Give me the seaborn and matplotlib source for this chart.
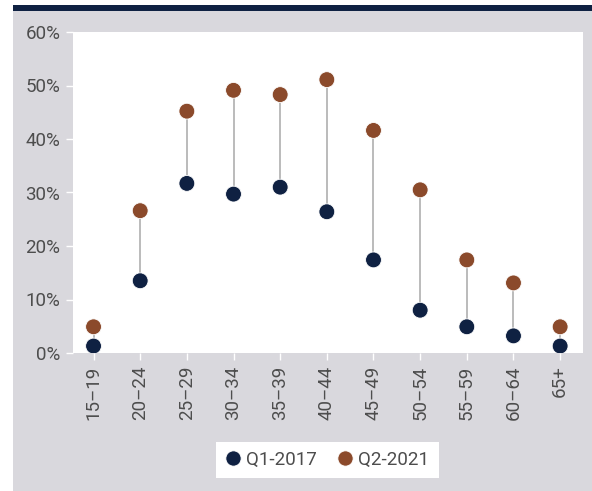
import matplotlib
matplotlib.use("Agg")
import matplotlib.pyplot as plt
from matplotlib.patches import Rectangle
from matplotlib.lines import Line2D
import seaborn as sns
import pandas as pd

# Age groups and share values (%) for the two periods
age_groups = ["15\u201319", "20\u201324", "25\u201329", "30\u201334", "35\u201339", "40\u201344",
              "45\u201349", "50\u201354", "55\u201359", "60\u201364", "65+"]
q1_2017 = [1.3, 13.5, 31.7, 29.7, 31.0, 26.4, 17.4, 8.0, 4.9, 3.2, 1.3]
q2_2021 = [4.9, 26.6, 45.2, 49.1, 48.3, 51.1, 41.6, 30.5, 17.4, 13.1, 4.9]
series_names = ["Q1-2017", "Q2-2021"]
y_ticks = [0, 10, 20, 30, 40, 50, 60]

NAVY = "#0f2142"
BROWN = "#8b4a2b"
PANEL = "#d9d8dd"
TEXT = "#4d4d4d"

sns.set_theme(style="white")
plt.rcParams["font.family"] = ["Roboto", "Liberation Sans", "DejaVu Sans"]

df = pd.DataFrame({
    "age": age_groups * 2,
    "value": q1_2017 + q2_2021,
    "period": [series_names[0]] * len(age_groups) + [series_names[1]] * len(age_groups),
})
df["x"] = list(range(len(age_groups))) * 2

W, H = 592, 491
fig = plt.figure(figsize=(W / 100, H / 100), dpi=100, facecolor="white")

# grey panel and dark header strip
fig.patches.append(Rectangle((13 / W, 0), 1 - 13 / W, 1 - 11 / H,
                             transform=fig.transFigure, facecolor=PANEL, edgecolor="none", zorder=-2))
fig.patches.append(Rectangle((13 / W, 1 - 11 / H), 1 - 13 / W, 6 / H,
                             transform=fig.transFigure, facecolor=NAVY, edgecolor="none", zorder=-2))

ax = fig.add_axes([73 / W, 1 - 353 / H, (583 - 73) / W, (353 - 32) / H])
ax.set_zorder(2)
ax.set_facecolor("white")

# connectors between the two periods
ax.vlines(range(len(age_groups)), q1_2017, q2_2021, color="#b5b5b5", linewidth=1.3, zorder=1)

sns.scatterplot(data=df, x="x", y="value", hue="period",
                palette={series_names[0]: NAVY, series_names[1]: BROWN},
                s=130, edgecolor="white", linewidth=0.6, zorder=3, legend=False, ax=ax)

ax.set_xlim(-0.44, 10.49)
ax.set_ylim(0, 60)
ax.set_xticks(range(len(age_groups)))
ax.set_xticklabels(age_groups, rotation=90)
ax.set_yticks(y_ticks)
ax.set_yticklabels([f"{t}%" for t in y_ticks])
ax.set_xlabel("")
ax.set_ylabel("")
for s in ax.spines.values():
    s.set_visible(False)
ax.tick_params(axis="both", which="both", length=5, width=1, color="white",
               labelsize=13.5, labelcolor=TEXT, pad=4)
ax.tick_params(axis="y", left=True)
ax.tick_params(axis="x", bottom=True)

handles = [Line2D([], [], linestyle="none", marker="o", markersize=11,
                  markerfacecolor=c, markeredgecolor="white", markeredgewidth=0.6)
           for c in (NAVY, BROWN)]
leg = fig.legend(handles, series_names, loc="center", bbox_to_anchor=(327.5 / W, 1 - 460 / H),
                 ncol=2, frameon=True, fancybox=False, framealpha=1, fontsize=13.5,
                 handlelength=0.8, handletextpad=0.3, columnspacing=1.1, borderpad=0.5,
                 labelcolor=TEXT)
leg.get_frame().set_facecolor("white")
leg.get_frame().set_edgecolor("none")
leg.get_frame().set_linewidth(0)

fig.savefig("out.png", dpi=100, facecolor="white")
